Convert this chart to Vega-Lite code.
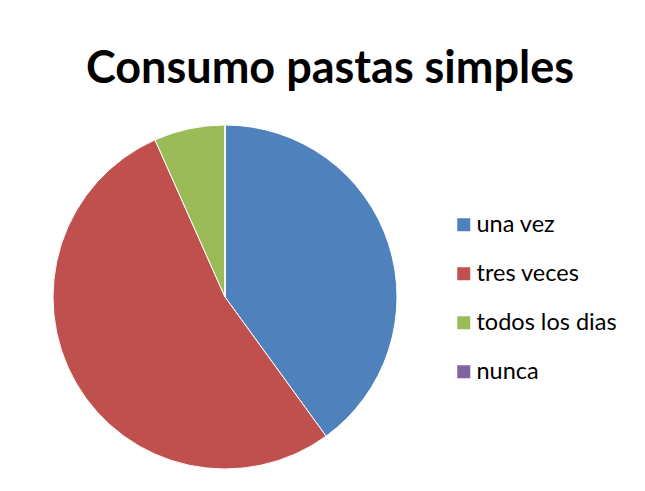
{
  "$schema": "https://vega.github.io/schema/vega-lite/v6.json",
  "width": 344,
  "height": 344,
  "autosize": "none",
  "padding": {"left": 53, "top": 125, "right": 248, "bottom": 22},
  "background": "white",
  "title": {
    "text": "Consumo pastas simples",
    "font": "Lato",
    "fontSize": 45,
    "fontWeight": "bold",
    "color": "black",
    "anchor": "middle",
    "frame": "group",
    "dx": 105,
    "dy": 45,
    "baseline": "alphabetic",
    "offset": 40
  },
  "data": {
    "values": [
      {"category": "una vez", "count": 6},
      {"category": "tres veces", "count": 8},
      {"category": "todos los dias", "count": 1},
      {"category": "nunca", "count": 0}
    ]
  },
  "mark": {"type": "arc", "stroke": "white", "strokeWidth": 1},
  "encoding": {
    "theta": {"field": "count", "type": "quantitative", "stack": true},
    "order": {"field": "category", "sort": "descending"},
    "color": {
      "field": "category",
      "type": "nominal",
      "sort": ["una vez", "tres veces", "todos los dias", "nunca"],
      "scale": {
        "domain": ["una vez", "tres veces", "todos los dias", "nunca"],
        "range": ["#4F81BD", "#C0504D", "#9BBB59", "#8064A2"]
      },
      "legend": {
        "title": null,
        "orient": "none",
        "legendX": 399,
        "legendY": 88,
        "symbolType": "square",
        "symbolSize": 169,
        "symbolStrokeWidth": 0,
        "symbolOpacity": 1,
        "labelFont": "Lato",
        "labelFontSize": 23.5,
        "labelColor": "black",
        "labelOffset": 1,
        "rowPadding": 24,
        "padding": 0
      }
    }
  },
  "config": {"view": {"stroke": null}}
}
